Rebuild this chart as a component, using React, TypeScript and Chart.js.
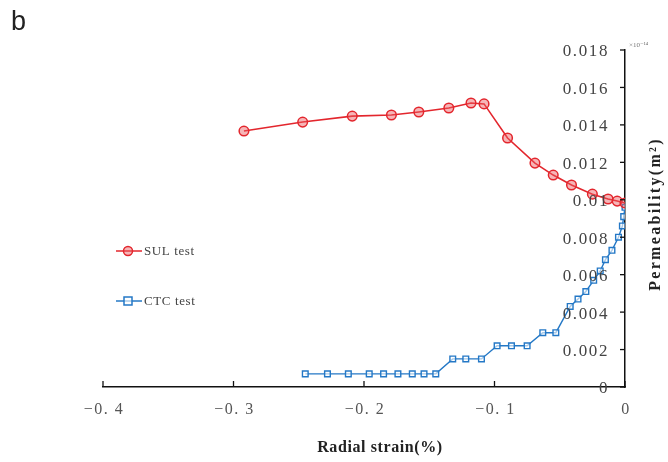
import React, { useEffect, useRef } from "react";
import { Chart, registerables } from "chart.js";

Chart.register(...registerables);

const sulStrain = [-0.292, -0.247, -0.209, -0.179, -0.158, -0.135, -0.118, -0.108, -0.09, -0.069, -0.055, -0.041, -0.025, -0.013, -0.006, 0];
const sulPerm = [0.01367, 0.01415, 0.01447, 0.01453, 0.01469, 0.0149, 0.01517, 0.01512, 0.0133, 0.01196, 0.01132, 0.01079, 0.0103, 0.01004, 0.00993, 0.00983];

const ctcStrain = [-0.245, -0.228, -0.212, -0.196, -0.185, -0.174, -0.163, -0.154, -0.145, -0.132, -0.122, -0.11, -0.098, -0.087, -0.075, -0.063, -0.053, -0.042, -0.036, -0.03, -0.024, -0.019, -0.015, -0.01, -0.005, -0.002, -0.001, 0];
const ctcPerm = [0.0007, 0.0007, 0.0007, 0.0007, 0.0007, 0.0007, 0.0007, 0.0007, 0.0007, 0.0015, 0.0015, 0.0015, 0.0022, 0.0022, 0.0022, 0.0029, 0.0029, 0.0043, 0.0047, 0.0051, 0.0057, 0.0062, 0.0068, 0.0073, 0.008, 0.0086, 0.0091, 0.0096];

const xTicks = [-0.4, -0.3, -0.2, -0.1, 0];
const yTicks = [0, 0.002, 0.004, 0.006, 0.008, 0.01, 0.012, 0.014, 0.016, 0.018];
const xTickLabels = ["−0. 4", "−0. 3", "−0. 2", "−0. 1", "0"];
const yTickLabels = ["0", "0.002", "0.004", "0.006", "0.008", "0.01", "0.012", "0.014", "0.016", "0.018"];

const seriesNames = ["SUL test", "CTC test"];
const xTitle = "Radial strain(%)";
const yTitle = "Permeability(m²)";
const exponentLabel = "×10⁻¹⁴";

const RED = "#e3262d";
const BLUE = "#2478c6";
const SERIF = '"Liberation Serif", "DejaVu Serif", serif';

const decorPlugin = {
  id: "decor",
  afterDraw(chart: any) {
    const ctx = chart.ctx;
    const xs = chart.scales.x;
    const ys = chart.scales.y;
    ctx.save();
    // inward tick marks
    ctx.strokeStyle = "#111";
    ctx.lineWidth = 1.3;
    yTicks.forEach((v) => {
      const py = ys.getPixelForValue(v);
      ctx.beginPath();
      ctx.moveTo(ys.left, py);
      ctx.lineTo(ys.left - 5, py);
      ctx.stroke();
    });
    xTicks.forEach((v) => {
      const px = xs.getPixelForValue(v);
      ctx.beginPath();
      ctx.moveTo(px, xs.top);
      ctx.lineTo(px, xs.top - 6);
      ctx.stroke();
    });
    // tick labels
    ctx.textBaseline = "middle";
    ctx.fillStyle = "#444";
    ctx.font = `17px ${SERIF}`;
    (ctx as any).letterSpacing = "1.6px";
    ctx.textAlign = "right";
    yTicks.forEach((v, i) => {
      const py = ys.getPixelForValue(v);
      ctx.fillText(yTickLabels[i], ys.left - 16, py + 2);
    });
    ctx.font = `16px ${SERIF}`;
    ctx.textAlign = "center";
    ctx.fillStyle = "#555";
    (ctx as any).letterSpacing = "1.5px";
    xTicks.forEach((v, i) => {
      const px = xs.getPixelForValue(v);
      ctx.fillText(xTickLabels[i], px + 1, xs.top + 23);
    });
    (ctx as any).letterSpacing = "0px";
    // legend
    const legendItems = [
      { name: seriesNames[0], color: RED, style: "circle", y: 251 },
      { name: seriesNames[1], color: BLUE, style: "rect", y: 301 },
    ];
    legendItems.forEach((it) => {
      ctx.strokeStyle = it.color;
      ctx.lineWidth = 1.5;
      ctx.beginPath();
      ctx.moveTo(116, it.y);
      ctx.lineTo(142, it.y);
      ctx.stroke();
      ctx.fillStyle = it.style === "circle" ? "rgba(235,90,95,0.45)" : "rgba(255,255,255,0.6)";
      ctx.beginPath();
      if (it.style === "circle") ctx.arc(128, it.y, 4.5, 0, Math.PI * 2);
      else ctx.rect(124, it.y - 4, 8, 8);
      ctx.fill();
      ctx.stroke();
      ctx.fillStyle = "#444";
      ctx.font = `13px ${SERIF}`;
      (ctx as any).letterSpacing = "0.6px";
      ctx.textBaseline = "middle";
      ctx.textAlign = "left";
      ctx.fillText(it.name, 144, it.y + 1);
      (ctx as any).letterSpacing = "0px";
    });
    // axis titles
    ctx.fillStyle = "#222";
    ctx.font = `bold 16px ${SERIF}`;
    ctx.textAlign = "center";
    ctx.textBaseline = "middle";
    (ctx as any).letterSpacing = "0.6px";
    ctx.fillText(xTitle, 380, 448);
    ctx.save();
    ctx.translate(656, 214);
    ctx.rotate(-Math.PI / 2);
    (ctx as any).letterSpacing = "2.3px";
    ctx.fillText(yTitle, 0, 0);
    ctx.restore();
    (ctx as any).letterSpacing = "0px";
    // exponent
    ctx.fillStyle = "#777";
    ctx.font = `7px ${SERIF}`;
    ctx.textAlign = "left";
    ctx.fillText(exponentLabel, 629, 45);
    ctx.restore();
  },
};

export default function App() {
  const ref = useRef<HTMLCanvasElement | null>(null);
  useEffect(() => {
    if (!ref.current) return;
    const chart = new Chart(ref.current, {
      type: "line",
      data: {
        datasets: [
          {
            label: seriesNames[0],
            data: sulStrain.map((x, i) => ({ x, y: sulPerm[i] })),
            borderColor: RED,
            borderWidth: 1.6,
            pointStyle: "circle",
            pointRadius: 4.8,
            pointBorderWidth: 1.5,
            pointBorderColor: RED,
            pointBackgroundColor: "rgba(235,90,95,0.45)",
            tension: 0,
          },
          {
            label: seriesNames[1],
            data: ctcStrain.map((x, i) => ({ x, y: ctcPerm[i] })),
            borderColor: BLUE,
            borderWidth: 1.4,
            pointStyle: "rect",
            pointRadius: 4,
            pointBorderWidth: 1.4,
            pointBorderColor: BLUE,
            pointBackgroundColor: "rgba(255,255,255,0.6)",
            tension: 0,
          },
        ],
      },
      options: {
        responsive: false,
        animation: false,
        layout: { padding: { left: 103, top: 50, right: 0, bottom: 0 } },
        plugins: { legend: { display: false }, tooltip: { enabled: false } },
        scales: {
          x: {
            type: "linear",
            position: "bottom",
            min: -0.4,
            max: 0,
            afterBuildTicks: (s: any) => {
              s.ticks = xTicks.map((v) => ({ value: v }));
            },
            ticks: { display: false },
            grid: { drawOnChartArea: false, drawTicks: false },
            border: { display: true, color: "#111", width: 1.5 },
            afterFit: (s: any) => {
              s.height = 75;
            },
          },
          y: {
            type: "linear",
            position: "right",
            min: 0,
            max: 0.018,
            afterBuildTicks: (s: any) => {
              s.ticks = yTicks.map((v) => ({ value: v }));
            },
            ticks: { display: false },
            grid: { drawOnChartArea: false, drawTicks: false },
            border: { display: true, color: "#111", width: 1.5 },
            afterFit: (s: any) => {
              s.width = 43;
            },
          },
        },
      },
      plugins: [decorPlugin],
    });
    return () => chart.destroy();
  }, []);
  return (
    <div style={{ position: "fixed", left: 0, top: 0, width: 668, height: 462, background: "#fff" }}>
      <canvas ref={ref} width={668} height={462} style={{ display: "block" }} />
      <div
        style={{
          position: "absolute",
          left: 11,
          top: 6,
          fontFamily: '"Liberation Sans", Arial, sans-serif',
          fontSize: 27,
          color: "#222",
        }}
      >
        b
      </div>
    </div>
  );
}
